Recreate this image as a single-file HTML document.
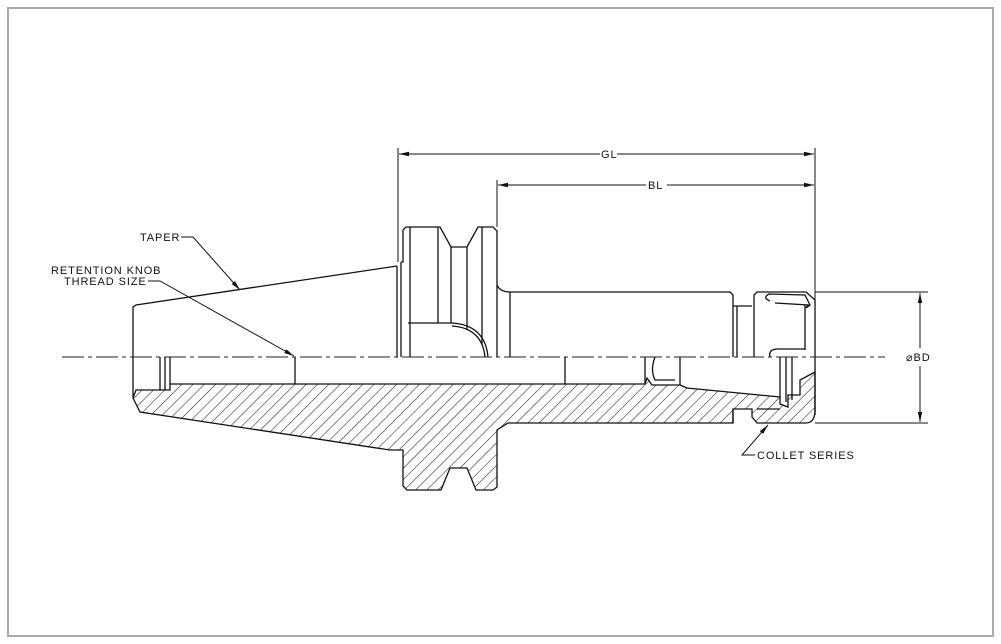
<!DOCTYPE html>
<html><head><meta charset="utf-8"><style>
html,body{margin:0;padding:0;background:#fff}
svg{display:block}
text{font-family:"Liberation Sans",sans-serif;font-size:11px;fill:#111;letter-spacing:0.9px}
</style></head><body>
<svg width="1001" height="644" viewBox="0 0 1001 644" xmlns="http://www.w3.org/2000/svg">
<defs>
<pattern id="h" patternUnits="userSpaceOnUse" width="8" height="8" patternTransform="rotate(45)">
<line x1="0" y1="0" x2="0" y2="8" stroke="#222" stroke-width="1.1"/>
</pattern>
<marker id="a" markerWidth="10" markerHeight="6" refX="10" refY="3" orient="auto" markerUnits="userSpaceOnUse">
<path d="M0,0.8 L10,3 L0,5.2 z" fill="#111"/>
</marker>
</defs>
<rect x="8" y="8" width="985" height="628" fill="#fff" stroke="#aaa" stroke-width="2"/>

<g fill="none" stroke="#111" stroke-width="1.3">
<!-- hatched lower section -->
<path fill="url(#h)" d="M136,390 L170,390 L170,384 L295,384 L565,384 L645,384 L647,378 L652,385 L680,385 L687,388 L780,397 L780,404 L788,407 L788,395 L800,395 L800,380 L815,372 L815,412 Q814,423 806,423 L757,423 L752,417 L752,409 L733,409 L733,423 L508,423 L497,430 L497,487 L493,490 L476,490 L467,468 L450,468 L441,490 L407,490 L403,486 L403,450 L390,450 L140,412 L133,398 Z"/>
<!-- upper outline -->
<path d="M133,357 L133,307 L136,305 L397,266"/>
<line x1="397" y1="266" x2="397" y2="357"/>
<line x1="401" y1="262" x2="401" y2="357"/>
<path d="M401,262 L403,262 L403,230 L406,227 L440,227 L451,247 L467,247 L478,227 L493,227 L497,231 L497,285 Q500,292 510,292 L730,292 L733,295 L733,357"/>
<line x1="410" y1="227" x2="410" y2="357"/>
<line x1="438" y1="227" x2="438" y2="323"/>
<line x1="451" y1="247" x2="451" y2="323"/>
<line x1="467" y1="247" x2="467" y2="330"/>
<line x1="482" y1="227" x2="482" y2="345"/>
<path d="M408,323 L452,323 Q485,325 488,357"/>
<path d="M452,326 Q482,328 485,357"/>
<line x1="497" y1="285" x2="497" y2="357"/>
<line x1="510" y1="292" x2="510" y2="357"/>
<line x1="733" y1="306" x2="752" y2="306"/>
<line x1="737" y1="306" x2="737" y2="357"/>
<path d="M754,357 L754,295 L757,292 L806,292 L815,300 L815,357"/>
<path d="M770,301 Q762,298 769,294 L805,295 L810,305 L806,308 L808,305 L775,303"/>
<line x1="805" y1="305" x2="805" y2="350"/>
<path d="M770,357 Q768,349 778,349 L805,349"/>
<!-- lower bore lines -->
<line x1="133" y1="357" x2="133" y2="398"/>
<line x1="160" y1="357" x2="160" y2="390"/>
<line x1="165" y1="357" x2="165" y2="390"/>
<line x1="170" y1="357" x2="170" y2="384"/>
<line x1="295" y1="357" x2="295" y2="384"/>
<line x1="565" y1="357" x2="565" y2="384"/>
<line x1="645" y1="357" x2="645" y2="384"/>
<line x1="680" y1="357" x2="680" y2="385"/>
<path d="M655,357 Q650,370 655,380 L675,380"/>
<line x1="780" y1="357" x2="780" y2="397"/>
<line x1="786" y1="357" x2="786" y2="402"/>
<line x1="792" y1="357" x2="792" y2="400"/>
<line x1="733" y1="409" x2="733" y2="423"/>
<line x1="757" y1="409" x2="780" y2="409"/>
<line x1="815" y1="357" x2="815" y2="415"/>
</g>

<!-- centerline -->
<line x1="62" y1="357" x2="885" y2="357" stroke="#222" stroke-width="1" stroke-dasharray="22,4,4,4"/>

<!-- dimensions -->
<g stroke="#111" stroke-width="1" fill="none">
<line x1="398" y1="148" x2="398" y2="262"/>
<line x1="497" y1="180" x2="497" y2="227"/>
<line x1="815" y1="148" x2="815" y2="357"/>
<line x1="600" y1="154" x2="399" y2="154" marker-end="url(#a)"/>
<line x1="617" y1="154" x2="814" y2="154" marker-end="url(#a)"/>
<line x1="646" y1="185" x2="498" y2="185" marker-end="url(#a)"/>
<line x1="667" y1="185" x2="814" y2="185" marker-end="url(#a)"/>
<line x1="815" y1="292" x2="928" y2="292"/>
<line x1="815" y1="423" x2="928" y2="423"/>
<line x1="920" y1="348" x2="920" y2="293" marker-end="url(#a)"/>
<line x1="920" y1="366" x2="920" y2="422" marker-end="url(#a)"/>
<!-- leaders -->
<polyline points="181,237 193,237 240,290" marker-end="url(#a)"/>
<polyline points="148,281 160,281 294,356" marker-end="url(#a)"/>
<polyline points="755,455 742,455 768,425" marker-end="url(#a)"/>
</g>
<text x="601" y="158">GL</text>
<text x="648" y="189">BL</text>
<text x="906" y="361">⌀BD</text>
<text x="140" y="241">TAPER</text>
<text x="51" y="274">RETENTION KNOB</text>
<text x="64" y="285">THREAD SIZE</text>
<text x="757" y="459">COLLET SERIES</text>
</svg>
</body></html>
